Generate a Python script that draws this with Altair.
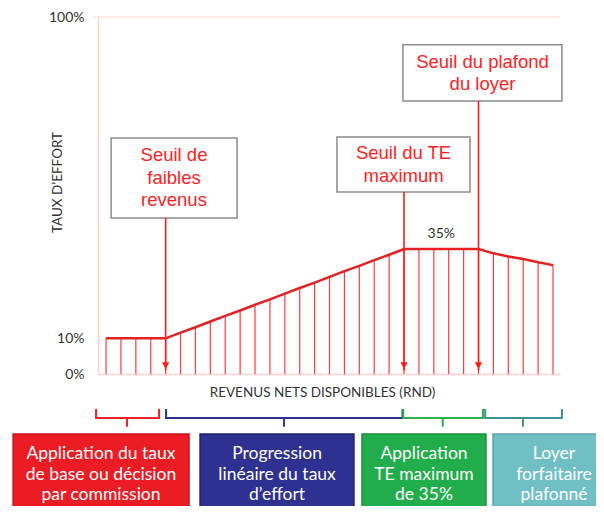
import altair as alt
import pandas as pd

# ---------------- data ----------------
steps = list(range(31))
taux = [10, 10, 10, 10, 10,
        11.6, 13.1, 14.7, 16.3, 17.8, 19.4, 20.9, 22.5, 24.1, 25.6, 27.2, 28.8, 30.3, 31.9, 33.4,
        35, 35, 35, 35, 35, 35,
        33.8, 32.9, 32.2, 31.3, 30.5]
y_ticks = [0, 10, 100]

seuil_labels = ["Seuil de\nfaibles\nrevenus", "Seuil du TE\nmaximum", "Seuil du plafond\ndu loyer"]
seuil_steps = [4, 20, 25]

max_label = ["35%"]
max_value = [35]

phase_labels = ["Application du taux\nde base ou décision\npar commission",
                "Progression\nlinéaire du taux\nd’effort",
                "Application\nTE maximum\nde 35%",
                "Loyer\nforfaitaire\nplafonné"]
phase_colors = ["#ec1c24", "#2e3192", "#21ad4b", "#6fbfc5"]
phase_borders = ["#c8151c", "#1e2270", "#178a3a", "#5aa6ac"]
bracket_colors = ["#e8232a", "#2e3192", "#2db34a", "#3f9198"]

# ---------------- layout (annotation placement) ----------------
seuil_box_x = [0.34, 15.5, 19.93]
seuil_box_x2 = [8.79, 24.43, 30.6]
seuil_box_top = [66.1, 66.4, 92.2]
seuil_box_bottom = [43.7, 51.0, 76.5]
seuil_text_x = [4.56, 19.97, 25.27]
seuil_text_y = [61.3, 61.9, 87.4]     # first line

bracket_x1 = [-0.67, 4.03, 19.95, 25.45]
bracket_x2 = [3.56, 19.9, 25.3, 30.6]
bracket_xc = [1.41, 11.95, 22.6, 27.99]
br_top, br_mid, br_bot = -9.8, -12.3, -14.8

phase_x1 = [-6.24, 6.31, 17.18, 25.97]
phase_x2 = [5.57, 16.64, 25.5, 34.5]
phase_tx = [-0.34, 11.48, 21.34, 30.07]
phase_top, phase_bottom, phase_ty = -16.8, -39.5, -22.5   # ty = first line

# ---------------- frames ----------------
profile = pd.DataFrame({"step": steps, "taux": taux, "base": 0})
seuils = pd.DataFrame({
    "label": seuil_labels, "step": seuil_steps,
    "bx": seuil_box_x, "bx2": seuil_box_x2,
    "by": seuil_box_top, "by2": seuil_box_bottom,
    "tx": seuil_text_x, "ty": seuil_text_y,
    "tip": 1.0, "head": 2.4,
})
maxi = pd.DataFrame({"label": max_label, "step": [22.5], "y": [max_value[0] + 4.2]})
top_rule = pd.DataFrame({"x": [-0.87], "x2": [30.47], "y": [100]})

br_rows = []
for i in range(4):
    pts = [(bracket_x1[i], br_top), (bracket_x1[i], br_mid), (bracket_xc[i], br_mid),
           (bracket_xc[i], br_bot), (bracket_xc[i], br_mid), (bracket_x2[i], br_mid),
           (bracket_x2[i], br_top)]
    for k, (x, y) in enumerate(pts):
        br_rows.append({"b": i, "o": k, "x": x, "y": y, "c": bracket_colors[i]})
brackets = pd.DataFrame(br_rows)

phases = pd.DataFrame({
    "label": phase_labels, "x1": phase_x1, "x2": phase_x2, "tx": phase_tx,
    "fill": phase_colors, "stroke": phase_borders,
    "top": phase_top, "bottom": phase_bottom, "ty": phase_ty,
})

# ---------------- scales / axes ----------------
xs = alt.Scale(domain=[-0.54, 30.47], nice=False, zero=False)
ys = alt.Scale(domain=[0, 100], nice=False, zero=False)

xaxis = alt.Axis(labels=False, ticks=False, grid=False, domainColor="#ffcfcf", domainWidth=1.5,
                 title="REVENUS NETS DISPONIBLES (RND)", titleFont="Lato", titleFontSize=13.5,
                 titleFontWeight="normal", titleColor="#333333", titleX=224, titleY=18,
                 titleBaseline="middle")
yaxis = alt.Axis(values=y_ticks, labelExpr="datum.value + '%'", labelFont="Lato", labelFontSize=14,
                 labelColor="#333333", labelPadding=14, ticks=False, grid=False,
                 domainColor="#ffcfcf", domainWidth=1.5,
                 title="TAUX D’EFFORT", titleFont="Lato", titleFontSize=13.5, titleFontWeight="normal",
                 titleColor="#333333", titleX=-41, titleY=165, titleBaseline="middle")


def X(f):
    return alt.X(f, type="quantitative", scale=xs, axis=xaxis)


def Y(f):
    return alt.Y(f, type="quantitative", scale=ys, axis=yaxis)


rule100 = alt.Chart(top_rule).mark_rule(color="#ffd3d3", strokeWidth=1.2).encode(
    x=X("x"), x2="x2", y=Y("y"))

verticals = alt.Chart(profile).mark_rule(color="#ff3d3d", strokeWidth=1.2).encode(
    x=X("step"), y=Y("base"), y2="taux")

line = alt.Chart(profile).mark_line(color="#e42222", strokeWidth=2.5).encode(
    x=X("step"), y=Y("taux"))

boxes = alt.Chart(seuils).mark_rect(fill="white", stroke="#8c8c8c", strokeWidth=1.5).encode(
    x=X("bx"), x2="bx2", y=Y("by"), y2="by2")

arrows = alt.Chart(seuils).mark_rule(color="#ff1a1a", strokeWidth=1.6).encode(
    x=X("step"), y=Y("by2"), y2="tip")

heads = alt.Chart(seuils).mark_point(shape="triangle-down", filled=True, size=55, opacity=1,
                                     color="#ff1a1a").encode(x=X("step"), y=Y("head"))

seuil_text = alt.Chart(seuils).mark_text(font="Liberation Sans", fontSize=18.5, color="#ff2222",
                                         lineBreak="\n", lineHeight=22.5, align="center",
                                         baseline="middle").encode(
    x=X("tx"), y=Y("ty"), text="label")

maxi_text = alt.Chart(maxi).mark_text(font="Lato", fontSize=14, color="#333333",
                                      baseline="middle").encode(
    x=X("step"), y=Y("y"), text="label")

bracket_lines = alt.Chart(brackets).mark_line(strokeWidth=2).encode(
    x=X("x"), y=Y("y"), detail="b:N", order="o:Q",
    color=alt.Color("c:N", scale=None))

phase_boxes = alt.Chart(phases).mark_rect(strokeWidth=1.5).encode(
    x=X("x1"), x2="x2", y=Y("top"), y2="bottom",
    fill=alt.Fill("fill:N", scale=None), stroke=alt.Stroke("stroke:N", scale=None))

phase_text = alt.Chart(phases).mark_text(font="Lato", fontSize=17.5, color="white", lineBreak="\n",
                                         lineHeight=20.5, align="center", baseline="middle").encode(
    x=X("tx"), y=Y("ty"), text="label")

chart = alt.layer(
    rule100, verticals, line, boxes, arrows, heads, seuil_text, maxi_text,
    bracket_lines, phase_boxes, phase_text
).properties(
    width=462, height=357,
    padding={"left": 90, "top": 9, "right": 36, "bottom": 132},
    autosize=alt.AutoSizeParams(type="none"),
    background="white",
).configure_view(stroke=None)

chart.save("out.html", embed_options={"renderer": "svg", "actions": False})
